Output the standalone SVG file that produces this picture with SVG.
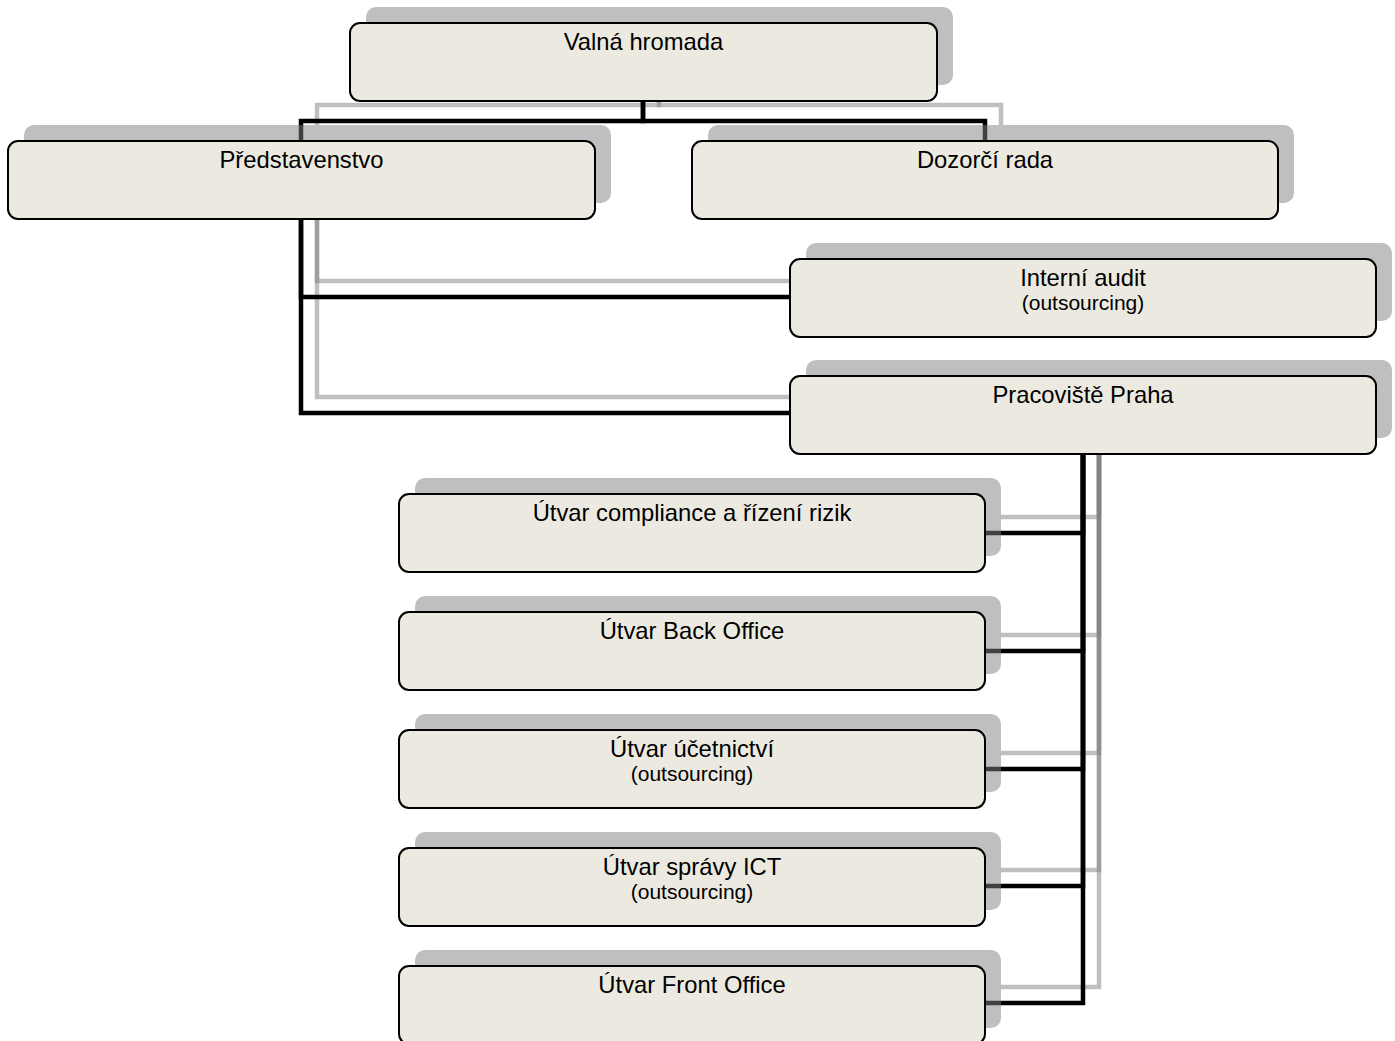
<svg xmlns="http://www.w3.org/2000/svg" width="1395" height="1041" viewBox="0 0 1395 1041">
<style>
.sh{fill:#808080;fill-opacity:0.5}
.box{fill:#ECEAE0;stroke:#000;stroke-width:2}
.cs{fill:none;stroke:#808080;stroke-opacity:0.5;stroke-width:4.5}
.c{fill:none;stroke:#000;stroke-width:4.5}
.t{font-family:"Liberation Sans",Arial,sans-serif;font-size:23.8px;text-anchor:middle;fill:#000}
.s{font-family:"Liberation Sans",Arial,sans-serif;font-size:21px;text-anchor:middle;fill:#000}
</style>
<rect width="1395" height="1041" fill="#fff"/>
<g id="connectors">
<g id="connector-shadows" transform="translate(16,-16)">
<path class="cs" d="M643,100V121H301V141"/>
<path class="cs" d="M643,100V121H985V141"/>
<path class="cs" d="M301,219V297H790"/>
<path class="cs" d="M301,219V413H790"/>
<path class="cs" d="M1083,454V533H985"/>
<path class="cs" d="M1083,454V651H985"/>
<path class="cs" d="M1083,454V769H985"/>
<path class="cs" d="M1083,454V886H985"/>
<path class="cs" d="M1083,454V1003H985"/>
</g>
<path class="c" d="M643,100V121H301V141"/>
<path class="c" d="M643,100V121H985V141"/>
<path class="c" d="M301,219V297H790"/>
<path class="c" d="M301,219V413H790"/>
<path class="c" d="M1083,454V533H985"/>
<path class="c" d="M1083,454V651H985"/>
<path class="c" d="M1083,454V769H985"/>
<path class="c" d="M1083,454V886H985"/>
<path class="c" d="M1083,454V1003H985"/>
</g>
<g id="valna-hromada">
<rect class="sh" x="366" y="7" width="587" height="78" rx="10"/>
<rect class="box" x="350" y="23" width="587" height="78" rx="10"/>
<text class="t" x="643.5" y="50">Valná hromada</text>
</g>
<g id="predstavenstvo">
<rect class="sh" x="24" y="125" width="587" height="78" rx="10"/>
<rect class="box" x="8" y="141" width="587" height="78" rx="10"/>
<text class="t" x="301.5" y="168">Představenstvo</text>
</g>
<g id="dozorci-rada">
<rect class="sh" x="708" y="125" width="586" height="78" rx="10"/>
<rect class="box" x="692" y="141" width="586" height="78" rx="10"/>
<text class="t" x="985" y="168">Dozorčí rada</text>
</g>
<g id="interni-audit">
<rect class="sh" x="806" y="243" width="586" height="78" rx="10"/>
<rect class="box" x="790" y="259" width="586" height="78" rx="10"/>
<text class="t" x="1083" y="286">Interní audit</text>
<text class="s" x="1083" y="310">(outsourcing)</text>
</g>
<g id="pracoviste-praha">
<rect class="sh" x="806" y="360" width="586" height="78" rx="10"/>
<rect class="box" x="790" y="376" width="586" height="78" rx="10"/>
<text class="t" x="1083" y="403">Pracoviště Praha</text>
</g>
<g id="utvar-compliance">
<rect class="sh" x="415" y="478" width="586" height="78" rx="10"/>
<rect class="box" x="399" y="494" width="586" height="78" rx="10"/>
<text class="t" x="692" y="521">Útvar compliance a řízení rizik</text>
</g>
<g id="utvar-back-office">
<rect class="sh" x="415" y="596" width="586" height="78" rx="10"/>
<rect class="box" x="399" y="612" width="586" height="78" rx="10"/>
<text class="t" x="692" y="639">Útvar Back Office</text>
</g>
<g id="utvar-ucetnictvi">
<rect class="sh" x="415" y="714" width="586" height="78" rx="10"/>
<rect class="box" x="399" y="730" width="586" height="78" rx="10"/>
<text class="t" x="692" y="757">Útvar účetnictví</text>
<text class="s" x="692" y="781">(outsourcing)</text>
</g>
<g id="utvar-spravy-ict">
<rect class="sh" x="415" y="832" width="586" height="78" rx="10"/>
<rect class="box" x="399" y="848" width="586" height="78" rx="10"/>
<text class="t" x="692" y="875">Útvar správy ICT</text>
<text class="s" x="692" y="899">(outsourcing)</text>
</g>
<g id="utvar-front-office">
<rect class="sh" x="415" y="950" width="586" height="78" rx="10"/>
<rect class="box" x="399" y="966" width="586" height="78" rx="10"/>
<text class="t" x="692" y="993">Útvar Front Office</text>
</g>
</svg>
